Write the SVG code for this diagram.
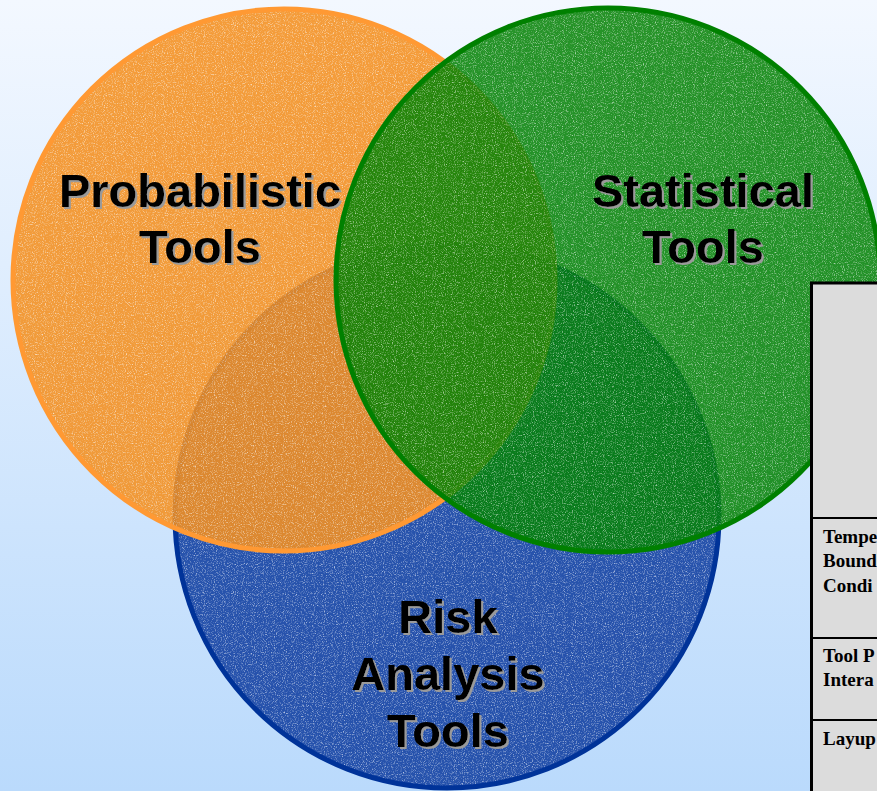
<svg xmlns="http://www.w3.org/2000/svg" width="877" height="791" viewBox="0 0 877 791">
<defs>
<linearGradient id="bg" x1="0" y1="0" x2="0" y2="1">
<stop offset="0" stop-color="#f3f8ff"/>
<stop offset="1" stop-color="#badafc"/>
</linearGradient>
<filter id="grain" x="-5%" y="-5%" width="110%" height="110%" color-interpolation-filters="sRGB">
<feTurbulence type="fractalNoise" baseFrequency="0.9" numOctaves="2" seed="4" result="n"/>
<feColorMatrix in="n" type="matrix" values="0 0 0 0 1  0 0 0 0 1  0 0 0 0 1  1.7 0 0 0 -0.85" result="w"/>
<feComposite in="w" in2="SourceGraphic" operator="in" result="wc"/>
<feMerge><feMergeNode in="SourceGraphic"/><feMergeNode in="wc"/></feMerge>
</filter>
<filter id="shadow" x="-10%" y="-20%" width="120%" height="140%">
<feOffset in="SourceAlpha" dx="2" dy="2" result="o"/>
<feFlood flood-color="#9a9a9a"/>
<feComposite in2="o" operator="in" result="s"/>
<feMerge><feMergeNode in="s"/><feMergeNode in="SourceGraphic"/></feMerge>
</filter>
<style>
.lbl{font-family:"Liberation Sans",Arial,sans-serif;font-weight:bold;font-size:47px;text-anchor:middle;fill:#000}
.cell{font-family:"Liberation Serif","Times New Roman",serif;font-weight:bold;font-size:19px;fill:#000}
</style>
</defs>
<rect width="877" height="791" fill="url(#bg)"/>
<g id="risk-circle">
<circle cx="447" cy="516" r="272" fill="#1a47a6" filter="url(#grain)" opacity="0.92"/>
<circle cx="447" cy="516" r="272" fill="none" stroke="#003399" stroke-width="5"/>
</g>
<g id="probabilistic-circle">
<circle cx="284" cy="280" r="271" fill="#f5901f" filter="url(#grain)" opacity="0.88"/>
<circle cx="284" cy="280" r="271" fill="none" stroke="#ff9933" stroke-width="5"/>
</g>
<g id="statistical-circle">
<circle cx="608" cy="280" r="272" fill="#058305" filter="url(#grain)" opacity="0.86"/>
<circle cx="608" cy="280" r="272" fill="none" stroke="#008000" stroke-width="5"/>
</g>
<g id="labels" filter="url(#shadow)">
<g id="label-probabilistic">
<text class="lbl" x="200" y="207">Probabilistic</text>
<text class="lbl" x="200" y="263">Tools</text>
</g>
<g id="label-statistical">
<text class="lbl" x="703" y="207">Statistical</text>
<text class="lbl" x="703" y="263">Tools</text>
</g>
<g id="label-risk">
<text class="lbl" x="448" y="633">Risk</text>
<text class="lbl" x="448" y="690">Analysis</text>
<text class="lbl" x="448" y="747">Tools</text>
</g>
</g>
<g id="table">
<rect x="811.5" y="283" width="100" height="530" fill="#dcdcdc" stroke="#000" stroke-width="3"/>
<line x1="811" y1="518" x2="877" y2="518" stroke="#000" stroke-width="2"/>
<line x1="811" y1="638" x2="877" y2="638" stroke="#000" stroke-width="2"/>
<line x1="811" y1="720" x2="877" y2="720" stroke="#000" stroke-width="2"/>
<text class="cell" x="823" y="543">Tempe</text>
<text class="cell" x="823" y="567">Bound</text>
<text class="cell" x="823" y="592">Condi</text>
<text class="cell" x="823" y="662">Tool P</text>
<text class="cell" x="823" y="686">Intera</text>
<text class="cell" x="823" y="745">Layup</text>
</g>
<g id="connectors"/>
</svg>
